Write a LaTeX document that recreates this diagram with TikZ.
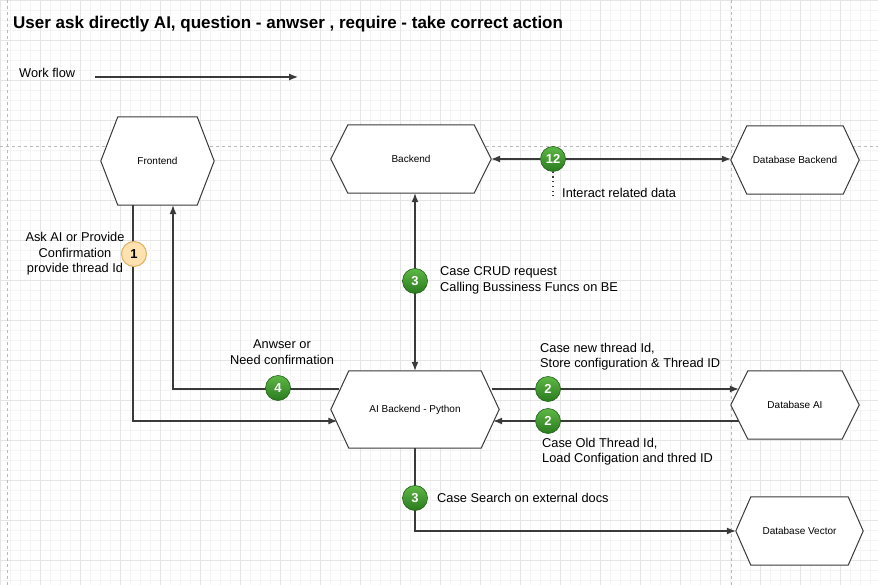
\documentclass[tikz,border=0pt]{standalone}
\usepackage{fontspec}
\setmainfont{Liberation Sans}
\usetikzlibrary{calc,arrows.meta,positioning}
\tikzset{>={Latex[length=9pt,width=7pt]}}
\pgfdeclarelayer{grid}
\pgfdeclarelayer{hex}
\pgfsetlayers{grid,hex,main}
\definecolor{lineclr}{HTML}{3A3A3A}
\definecolor{greentop}{HTML}{5DB845}
\definecolor{greenbot}{HTML}{2A7A1E}
\definecolor{orangefill}{HTML}{FFE2B0}
\definecolor{orangeline}{HTML}{E0B060}
% hexagon drawn round a named node, #2 = inset of the top edge
\newcommand{\hexshape}[2]{%
\begin{pgfonlayer}{hex}
\draw[hexline] ([xshift=#2]#1.north west) -- ([xshift=-#2]#1.north east) -- (#1.east)
 -- ([xshift=-#2]#1.south east) -- ([xshift=#2]#1.south west) -- (#1.west) -- cycle;
\end{pgfonlayer}}
\begin{document}
\begin{tikzpicture}[x=1pt, y=-1pt,
hexbox/.style={inner sep=0, font=\fontsize{10}{12}\selectfont},
hexline/.style={draw=lineclr, fill=white, line width=1pt},
flow/.style={->, draw=lineclr, line width=1.2pt},
flowboth/.style={<->, draw=lineclr, line width=1.2pt},
badge/.style={circle, minimum size=25pt, inner sep=0, draw=greenbot!80!black, line width=0.6pt,
  top color=greentop, bottom color=greenbot, text=white, font=\fontsize{13}{13}\selectfont\bfseries},
badgeone/.style={circle, minimum size=25pt, inner sep=0, draw=orangeline, line width=1pt,
  fill=orangefill, font=\fontsize{13}{13}\selectfont\bfseries},
caption/.style={font=\fontsize{12.8}{15.5}\selectfont, inner sep=0},
pageline/.style={gray!55, dash pattern=on 3pt off 3pt, line width=0.6pt}
]
\useasboundingbox (0,0) rectangle (878,585);
\begin{pgfonlayer}{grid}
\fill[white] (0,0) rectangle (878,585);
\draw[gray!9, line width=0.5pt, step=10pt] (0,0) grid (878,585);
\draw[gray!20, line width=0.5pt, step=40pt] (0,0) grid (878,585);
\draw[pageline] (7,0) -- (7,585);
\draw[pageline] (731,0) -- (731,585);
\draw[pageline] (0,146) -- (878,146);
\end{pgfonlayer}

% title and legend
\node[anchor=west, inner sep=0, font=\fontsize{17}{20}\selectfont\bfseries] (title) at (13,24)
 {User ask directly AI, question - anwser , require - take correct action};
\node[caption, anchor=west] (wf) at (19,73) {Work flow};
\coordinate (wfa) at (95,77);
\coordinate (wfb) at (298,77);
\draw[flow] (wfa) -- (wfb);

% boxes
\node[hexbox, minimum width=113pt, minimum height=88pt] (front) at (157.5,161) {Frontend};
\node[hexbox, minimum width=160pt, minimum height=68pt] (back) at (411,159) {Backend};
\node[hexbox, minimum width=128pt, minimum height=68pt] (dbb) at (795,160) {Database Backend};
\node[hexbox, minimum width=168pt, minimum height=77pt] (aib) at (415,409.5) {AI Backend - Python};
\node[hexbox, minimum width=128pt, minimum height=68pt] (dbai) at (795,405) {Database AI};
\node[hexbox, minimum width=127pt, minimum height=68pt] (dbv) at (799.5,531) {Database Vector};
\hexshape{front}{17}
\hexshape{back}{17}
\hexshape{dbb}{16}
\hexshape{aib}{18}
\hexshape{dbai}{17}
\hexshape{dbv}{15}

% connectors
\draw[flow] ($(front.south)+(-24.5,0)$) |- ($(aib.west)+(6.5,11.5)$);
\draw[flow] ($(aib.west)+(8.5,-20.5)$) -| ($(front.south)+(15.5,0)$);
\draw[flowboth] (back.south -| aib.north) -- (aib.north);
\draw[flowboth] (back.east) -- (back.east -| dbb.west);
\draw[flow] ($(aib.east)+(-7.5,-20.5)$) -- ($(dbai.west)+(8,-16)$);
\draw[flow] ($(dbai.west)+(8,16)$) -- ($(aib.east)+(-6,11.5)$);
\draw[flow] (aib.south) |- (dbv.west);

% steps
\node[badgeone] (s1) at (134,254) {1};
\node[caption, align=center] (l1) at (75,254) {Ask AI or Provide\\Confirmation\\provide thread Id};
\node[badge] (s4) at (278,388) {4};
\node[caption, align=center] (l4) at (282,352) {Anwser or\\Need confirmation};
\node[badge] (s3a) at (415,281) {3};
\node[caption, align=left, anchor=west] (l3a) at (440,280.5) {Case CRUD request\\Calling Bussiness Funcs on BE};
\node[badge] (s12) at (553,159) {12};
\coordinate (s12end) at (553,198);
\draw[lineclr, line width=1.2pt, dash pattern=on 1.2pt off 3.5pt] (s12.south) -- (s12end);
\node[caption, anchor=west] (l12) at (562,193) {Interact related data};
\node[badge] (s2a) at (548,389) {2};
\node[caption, align=left, anchor=west] (l2a) at (540,356.5) {Case new thread Id,\\Store configuration \& Thread ID};
\node[badge] (s2b) at (548,421) {2};
\node[caption, align=left, anchor=west] (l2b) at (542,451.5) {Case Old Thread Id,\\Load Configation and thred ID};
\node[badge] (s3b) at (415,498) {3};
\node[caption, anchor=west] (l3b) at (437,498) {Case Search on external docs};
\end{tikzpicture}
\end{document}
